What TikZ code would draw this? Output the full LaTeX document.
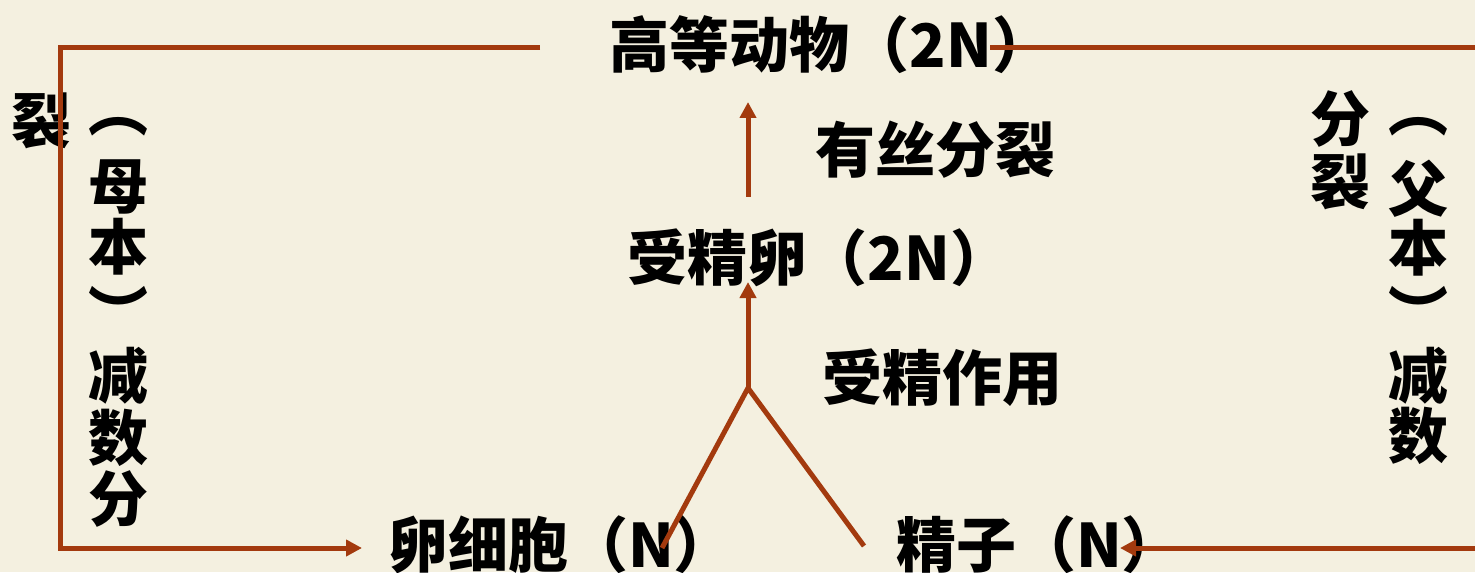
\documentclass[tikz,border=0pt]{standalone}
\usepackage{fontspec}
\setmainfont{Noto Sans CJK SC}
\usetikzlibrary{arrows.meta}
\definecolor{bgc}{RGB}{244,240,224}
\definecolor{linec}{RGB}{163,58,14}
\begin{document}
\begin{tikzpicture}[x=0.5pt,y=-0.5pt,
  lbl/.style={inner sep=0pt,font=\fontsize{30pt}{34pt}\selectfont\bfseries,text=black},
  conn/.style={draw=linec,line width=2.5pt},
  arr/.style={conn,-{Triangle[length=8pt,width=8pt]}}]
\fill[bgc] (0,0) rectangle (1475,572);
\useasboundingbox (0,0) rectangle (1475,572);
% main nodes
\node[lbl] (animal) at (831,45) {高等动物（2N）};
\node[lbl] (zygote) at (819,258) {受精卵（2N）};
\node[lbl] (egg) at (561,545) {卵细胞（N）};
\node[lbl] (sperm) at (1039,545) {精子（N）};
\node[lbl] (mitosis) at (935,150) {有丝分裂};
\node[lbl] (fert) at (942,378) {受精作用};
% left vertical label
\node[lbl] (lA) at (118,127) {︵};
\node[lbl] (lB) at (118,187) {母};
\node[lbl] (lC) at (118,247) {本};
\node[lbl] (lD) at (118,311) {︶};
\node[lbl] (lE) at (118,376) {减};
\node[lbl] (lF) at (118,438) {数};
\node[lbl] (lG) at (118,499) {分};
\node[lbl] (lH) at (41,121) {裂};
% right vertical label
\node[lbl] (rA) at (1418,127) {︵};
\node[lbl] (rB) at (1418,189) {父};
\node[lbl] (rC) at (1418,248) {本};
\node[lbl] (rD) at (1418,311) {︶};
\node[lbl] (rE) at (1418,376) {减};
\node[lbl] (rF) at (1418,436) {数};
\node[lbl] (rG) at (1340,119) {分};
\node[lbl] (rH) at (1340,182) {裂};
% coordinates
\coordinate (mitS) at (748,197);
\coordinate (mitT) at (748,102);
\coordinate (fork) at (748,388);
\coordinate (fertT) at (748,282);
\coordinate (eggE) at (662,548);
\coordinate (spE) at (864,546);
\coordinate (tl) at (540,48);
\coordinate (tlc) at (60,48);
\coordinate (blc) at (60,548);
\coordinate (eggT) at (362,548);
\coordinate (tr) at (990,48);
\coordinate (trE) at (1475,48);
\coordinate (brE) at (1475,548);
\coordinate (spT) at (1120,548);
% connectors
\draw[arr] (mitS) -- (mitT);
\draw[arr] (fork) -- (fertT);
\draw[conn,line join=round] (eggE) -- (fork) -- (spE);
\draw[arr] (tl) -- (tlc) -- (blc) -- (eggT);
\draw[conn] (tr) -- (trE);
\draw[arr] (brE) -- (spT);
\end{tikzpicture}
\end{document}
